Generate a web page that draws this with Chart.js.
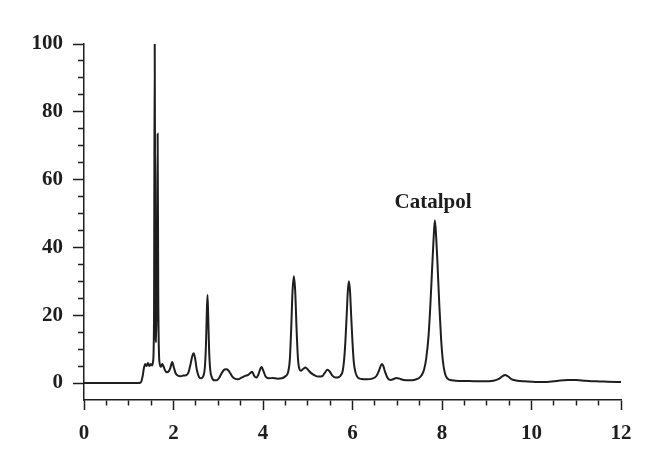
<!DOCTYPE html>
<html>
<head>
<meta charset="utf-8">
<script src="https://cdn.jsdelivr.net/npm/chart.js@4"></script>
<style>
  html, body { margin: 0; padding: 0; background: #ffffff; }
  #wrap { width: 660px; height: 476px; position: relative; }
</style>
</head>
<body>
<div id="wrap"><canvas id="c" width="660" height="476"></canvas></div>
<script>
// Retention time (min)
const times = [
  0, 0.6, 1.2, 1.27, 1.31, 1.34, 1.37, 1.40, 1.43, 1.46, 1.49, 1.52, 1.545, 1.565, 1.58, 1.595, 1.612, 1.63, 1.645, 1.66, 1.675, 1.695,
  1.72, 1.75, 1.78, 1.81, 1.85, 1.89, 1.93, 1.97, 2.01, 2.05, 2.10, 2.16, 2.22, 2.28, 2.33, 2.38, 2.42, 2.45, 2.48, 2.52, 2.57, 2.62,
  2.67, 2.70, 2.725, 2.745, 2.76, 2.775, 2.795, 2.82, 2.86, 2.91, 2.96, 3.02, 3.08, 3.14, 3.19, 3.25, 3.31, 3.37, 3.44, 3.52, 3.60,
  3.67, 3.72, 3.76, 3.80, 3.85, 3.90, 3.94, 3.97, 4.01, 4.06, 4.13, 4.22, 4.32, 4.42, 4.50, 4.56, 4.60, 4.63, 4.66, 4.69, 4.72, 4.75,
  4.78, 4.81, 4.85, 4.90, 4.95, 5.00, 5.07, 5.15, 5.24, 5.32, 5.38, 5.44, 5.49, 5.55, 5.62, 5.69, 5.74, 5.78, 5.81, 5.84, 5.87, 5.895,
  5.92, 5.945, 5.97, 6.00, 6.03, 6.07, 6.12, 6.20, 6.32, 6.44, 6.53, 6.59, 6.635, 6.66, 6.69, 6.73, 6.78, 6.84, 6.91, 6.98, 7.05, 7.14,
  7.28, 7.40, 7.48, 7.54, 7.60, 7.65, 7.70, 7.74, 7.78, 7.81, 7.84, 7.87, 7.90, 7.94, 7.98, 8.02, 8.06, 8.10, 8.16, 8.3, 8.6, 8.9,
  9.15, 9.27, 9.35, 9.41, 9.47, 9.56, 9.68, 9.85, 10.1, 10.4, 10.6, 10.8, 11.0, 11.2, 11.45, 11.7, 12
];
// Detector response (relative %)
const signal = [
  0, 0, 0, 0.2, 2, 4.5, 5.6, 5.0, 5.9, 5.0, 5.6, 5.2, 6.5, 20, 100, 25, 12, 30, 73.5, 25, 9, 5.5,
  4.8, 5.6, 4.8, 3.8, 3.2, 3.4, 4.5, 6.2, 4.5, 2.8, 2.2, 2.0, 2.2, 2.3, 3.0, 5.5, 8.0, 8.8, 7.5, 4.0, 1.8, 1.4,
  2.2, 4.5, 11, 21, 26, 20, 10, 4, 1.6, 0.8, 0.8, 1.5, 3.0, 4.0, 4.1, 3.3, 2.0, 1.3, 1.1, 1.6, 2.1,
  2.4, 3.0, 3.3, 2.2, 1.6, 2.6, 4.2, 4.7, 3.5, 1.9, 1.4, 1.5, 1.3, 1.4, 2.0, 3.2, 7, 16, 27, 31.5, 27, 16,
  7.5, 4.3, 3.6, 4.2, 4.6, 4.0, 3.0, 2.3, 1.9, 2.0, 3.0, 3.9, 3.4, 2.2, 1.6, 1.7, 2.3, 3.5, 6.5, 12, 20, 27,
  30, 27, 20, 12, 6, 3, 1.6, 1.2, 1.1, 1.3, 2.0, 3.6, 5.2, 5.6, 5.0, 3.2, 1.6, 0.9, 1.1, 1.5, 1.3, 0.9,
  0.8, 1.0, 1.4, 2.2, 4.0, 7.5, 14, 23, 34, 42, 48, 43, 35, 23, 13, 6.5, 3.2, 1.7, 1.0, 0.7, 0.6, 0.5,
  0.7, 1.2, 2.0, 2.4, 2.0, 1.1, 0.7, 0.5, 0.3, 0.4, 0.7, 0.9, 0.9, 0.7, 0.5, 0.4, 0.3
];
const xTickLabels = [0, 2, 4, 6, 8, 10, 12];
const yTickLabels = [0, 20, 40, 60, 80, 100];
const peakLabel = { text: 'Catalpol', x: 7.8, y: 52 };

const INK = '#1e1e1e';
const FONT = 'Liberation Serif, Times New Roman, serif';

const annotate = {
  id: 'annotate',
  afterDatasetsDraw(chart) {
    const { ctx, scales } = chart;
    ctx.save();
    ctx.font = 'bold 21px ' + FONT;
    ctx.fillStyle = INK;
    ctx.textAlign = 'center';
    ctx.textBaseline = 'alphabetic';
    ctx.fillText(peakLabel.text, scales.x.getPixelForValue(peakLabel.x), scales.y.getPixelForValue(peakLabel.y) + 1);
    ctx.restore();
  }
};

new Chart(document.getElementById('c'), {
  type: 'line',
  data: {
    datasets: [{
      data: times.map((t, i) => ({ x: t, y: signal[i] })),
      borderColor: INK,
      borderWidth: 2,
      pointRadius: 0,
      fill: false,
      cubicInterpolationMode: 'monotone'
    }]
  },
  options: {
    responsive: false,
    animation: false,
    events: [],
    layout: { padding: { left: 0, right: 39, top: 44, bottom: 0 } },
    plugins: { legend: { display: false }, tooltip: { enabled: false } },
    scales: {
      x: {
        type: 'linear',
        min: 0, max: 12,
        afterFit: s => { s.height = 76; },
        border: { display: true, color: INK, width: 1.5 },
        grid: {
          drawOnChartArea: false,
          drawTicks: true,
          tickLength: 10,
          tickColor: INK,
          tickWidth: 1.5,
          tickBorderDash: c => xTickLabels.includes(c.tick.value) ? [] : [5, 100]
        },
        ticks: {
          stepSize: 0.5,
          autoSkip: false,
          maxRotation: 0,
          padding: 11,
          color: INK,
          font: { family: FONT, size: 21, weight: 'bold' },
          callback: v => xTickLabels.includes(v) ? String(v) : ''
        }
      },
      y: {
        min: -5, max: 100,
        afterFit: s => { s.width = 84; },
        border: { display: true, color: INK, width: 1.5 },
        grid: {
          drawOnChartArea: false,
          drawTicks: true,
          tickLength: 11,
          tickWidth: 1.5,
          tickColor: c => c.tick.value < 0 ? 'rgba(0,0,0,0)' : INK,
          tickBorderDash: c => yTickLabels.includes(c.tick.value) ? [] : [0, 5, 20, 0]
        },
        ticks: {
          stepSize: 5,
          autoSkip: false,
          padding: 10,
          color: INK,
          font: { family: FONT, size: 21, weight: 'bold' },
          callback: v => yTickLabels.includes(v) ? String(v) : ''
        }
      }
    }
  },
  plugins: [annotate]
});
</script>
</body>
</html>
